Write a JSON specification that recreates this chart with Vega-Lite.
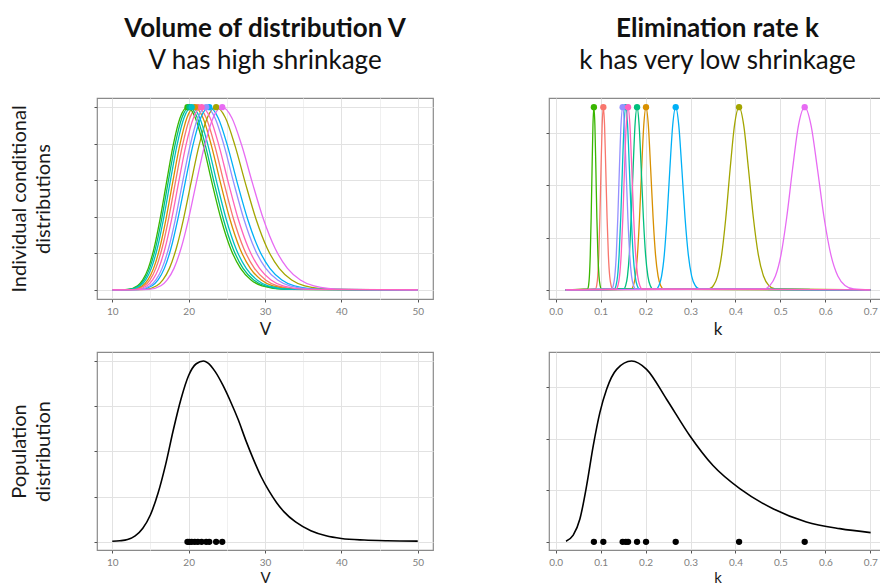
{
"$schema": "https://vega.github.io/schema/vega-lite/v6.json",
"background": "white",
"padding": {"left": 8, "top": 15, "right": -6, "bottom": 0},
"columns": 2,
"spacing": {"row": 53, "column": 116},
"bounds": "flush",
"config": {
  "font": "Lato",
  "view": {"stroke": "#8a8a8a", "strokeWidth": 1.2},
  "axis": {"domain": false, "tickColor": "#555555", "tickSize": 3, "labelColor": "#808080", "labelFontSize": 10, "labelPadding": 4, "titleFontWeight": "normal", "titleColor": "#1a1a1a", "labelFlush": false, "labelOverlap": false},
  "axisX": {"titleFontSize": 17, "titlePadding": 5},
  "axisY": {"titleFontSize": 20, "titlePadding": 40, "labels": false, "titleLineHeight": 24},
  "title": {"fontSize": 26, "fontWeight": "bold", "color": "#111111", "subtitleFontSize": 26, "subtitleColor": "#111111", "subtitlePadding": 6, "offset": 24, "anchor": "middle", "frame": "group"}
},
"datasets": {
"modes": [
{"id":"1","V":21.2,"k":0.106},
{"id":"2","V":20.8,"k":0.201},
{"id":"3","V":23.6,"k":0.408},
{"id":"4","V":19.85,"k":0.085},
{"id":"5","V":20.1,"k":0.181},
{"id":"6","V":20.4,"k":0.156},
{"id":"7","V":22.7,"k":0.267},
{"id":"8","V":22.3,"k":0.149},
{"id":"9","V":24.4,"k":0.554},
{"id":"10","V":21.7,"k":0.161}
],
"vpop": [
{"V":10,"d":0.003},{"V":11,"d":0.006},{"V":12,"d":0.013},{"V":13,"d":0.033},{"V":14,"d":0.075},{"V":15,"d":0.15},{"V":16,"d":0.27},{"V":17,"d":0.43},{"V":18,"d":0.62},{"V":19,"d":0.79},{"V":20,"d":0.92},{"V":21,"d":0.985},{"V":21.94,"d":1},{"V":22.5,"d":0.99},{"V":23.5,"d":0.94},{"V":24.5,"d":0.865},{"V":25.5,"d":0.775},{"V":26.5,"d":0.675},{"V":27.5,"d":0.56},{"V":28.5,"d":0.455},{"V":29.5,"d":0.36},{"V":30.5,"d":0.283},{"V":31.5,"d":0.218},{"V":32.5,"d":0.166},{"V":34,"d":0.11},{"V":36,"d":0.062},{"V":38,"d":0.034},{"V":40,"d":0.019},{"V":43,"d":0.01},{"V":46,"d":0.006},{"V":50,"d":0.004}
],
"kpop": [
{"k":0.0229,"d":0.004},{"k":0.039,"d":0.037},{"k":0.054,"d":0.128},{"k":0.0689,"d":0.312},{"k":0.0836,"d":0.532},{"k":0.0984,"d":0.716},{"k":0.1133,"d":0.844},{"k":0.1356,"d":0.954},{"k":0.1689,"d":1},{"k":0.2022,"d":0.954},{"k":0.2467,"d":0.789},{"k":0.2984,"d":0.587},{"k":0.35,"d":0.422},{"k":0.4096,"d":0.294},{"k":0.4836,"d":0.183},{"k":0.5578,"d":0.11},{"k":0.632,"d":0.073},{"k":0.7007,"d":0.051}
],
"vind": [
{"id":"1","V":10,"d":0},{"id":"1","V":12.86,"d":0.0026},{"id":"1","V":14.21,"d":0.0223},{"id":"1","V":14.94,"d":0.0543},{"id":"1","V":15.70,"d":0.1176},{"id":"1","V":16.51,"d":0.2262},{"id":"1","V":17.36,"d":0.3863},{"id":"1","V":18.25,"d":0.5856},{"id":"1","V":19.18,"d":0.7883},{"id":"1","V":20.17,"d":0.9423},{"id":"1","V":21.2,"d":1},{"id":"1","V":22.29,"d":0.9423},{"id":"1","V":23.43,"d":0.7883},{"id":"1","V":24.63,"d":0.5856},{"id":"1","V":25.89,"d":0.3863},{"id":"1","V":27.22,"d":0.2262},{"id":"1","V":28.62,"d":0.1176},{"id":"1","V":30.08,"d":0.0543},{"id":"1","V":31.63,"d":0.0223},{"id":"1","V":34.95,"d":0.0026},{"id":"1","V":50,"d":0},
{"id":"2","V":10,"d":0},{"id":"2","V":12.62,"d":0.0026},{"id":"2","V":13.94,"d":0.0223},{"id":"2","V":14.66,"d":0.0543},{"id":"2","V":15.41,"d":0.1176},{"id":"2","V":16.20,"d":0.2262},{"id":"2","V":17.03,"d":0.3863},{"id":"2","V":17.90,"d":0.5856},{"id":"2","V":18.82,"d":0.7883},{"id":"2","V":19.78,"d":0.9423},{"id":"2","V":20.8,"d":1},{"id":"2","V":21.87,"d":0.9423},{"id":"2","V":22.99,"d":0.7883},{"id":"2","V":24.17,"d":0.5856},{"id":"2","V":25.41,"d":0.3863},{"id":"2","V":26.71,"d":0.2262},{"id":"2","V":28.08,"d":0.1176},{"id":"2","V":29.52,"d":0.0543},{"id":"2","V":31.03,"d":0.0223},{"id":"2","V":34.29,"d":0.0026},{"id":"2","V":50,"d":0},
{"id":"3","V":10,"d":0},{"id":"3","V":14.31,"d":0.0026},{"id":"3","V":15.82,"d":0.0223},{"id":"3","V":16.63,"d":0.0543},{"id":"3","V":17.48,"d":0.1176},{"id":"3","V":18.38,"d":0.2262},{"id":"3","V":19.32,"d":0.3863},{"id":"3","V":20.31,"d":0.5856},{"id":"3","V":21.35,"d":0.7883},{"id":"3","V":22.45,"d":0.9423},{"id":"3","V":23.6,"d":1},{"id":"3","V":24.81,"d":0.9423},{"id":"3","V":26.08,"d":0.7883},{"id":"3","V":27.42,"d":0.5856},{"id":"3","V":28.83,"d":0.3863},{"id":"3","V":30.30,"d":0.2262},{"id":"3","V":31.86,"d":0.1176},{"id":"3","V":33.49,"d":0.0543},{"id":"3","V":35.21,"d":0.0223},{"id":"3","V":38.91,"d":0.0026},{"id":"3","V":50,"d":0},
{"id":"4","V":10,"d":0},{"id":"4","V":12.04,"d":0.0026},{"id":"4","V":13.31,"d":0.0223},{"id":"4","V":13.99,"d":0.0543},{"id":"4","V":14.71,"d":0.1176},{"id":"4","V":15.46,"d":0.2262},{"id":"4","V":16.25,"d":0.3863},{"id":"4","V":17.09,"d":0.5856},{"id":"4","V":17.96,"d":0.7883},{"id":"4","V":18.88,"d":0.9423},{"id":"4","V":19.85,"d":1},{"id":"4","V":20.87,"d":0.9423},{"id":"4","V":21.94,"d":0.7883},{"id":"4","V":23.06,"d":0.5856},{"id":"4","V":24.25,"d":0.3863},{"id":"4","V":25.49,"d":0.2262},{"id":"4","V":26.80,"d":0.1176},{"id":"4","V":28.17,"d":0.0543},{"id":"4","V":29.61,"d":0.0223},{"id":"4","V":32.73,"d":0.0026},{"id":"4","V":50,"d":0},
{"id":"5","V":10,"d":0},{"id":"5","V":12.19,"d":0.0026},{"id":"5","V":13.47,"d":0.0223},{"id":"5","V":14.16,"d":0.0543},{"id":"5","V":14.89,"d":0.1176},{"id":"5","V":15.65,"d":0.2262},{"id":"5","V":16.46,"d":0.3863},{"id":"5","V":17.30,"d":0.5856},{"id":"5","V":18.19,"d":0.7883},{"id":"5","V":19.12,"d":0.9423},{"id":"5","V":20.1,"d":1},{"id":"5","V":21.13,"d":0.9423},{"id":"5","V":22.21,"d":0.7883},{"id":"5","V":23.35,"d":0.5856},{"id":"5","V":24.55,"d":0.3863},{"id":"5","V":25.81,"d":0.2262},{"id":"5","V":27.13,"d":0.1176},{"id":"5","V":28.52,"d":0.0543},{"id":"5","V":29.99,"d":0.0223},{"id":"5","V":33.14,"d":0.0026},{"id":"5","V":50,"d":0},
{"id":"6","V":10,"d":0},{"id":"6","V":12.37,"d":0.0026},{"id":"6","V":13.67,"d":0.0223},{"id":"6","V":14.38,"d":0.0543},{"id":"6","V":15.11,"d":0.1176},{"id":"6","V":15.89,"d":0.2262},{"id":"6","V":16.70,"d":0.3863},{"id":"6","V":17.56,"d":0.5856},{"id":"6","V":18.46,"d":0.7883},{"id":"6","V":19.40,"d":0.9423},{"id":"6","V":20.4,"d":1},{"id":"6","V":21.45,"d":0.9423},{"id":"6","V":22.55,"d":0.7883},{"id":"6","V":23.70,"d":0.5856},{"id":"6","V":24.92,"d":0.3863},{"id":"6","V":26.19,"d":0.2262},{"id":"6","V":27.54,"d":0.1176},{"id":"6","V":28.95,"d":0.0543},{"id":"6","V":30.43,"d":0.0223},{"id":"6","V":33.63,"d":0.0026},{"id":"6","V":50,"d":0},
{"id":"7","V":10,"d":0},{"id":"7","V":13.77,"d":0.0026},{"id":"7","V":15.22,"d":0.0223},{"id":"7","V":16.00,"d":0.0543},{"id":"7","V":16.82,"d":0.1176},{"id":"7","V":17.68,"d":0.2262},{"id":"7","V":18.58,"d":0.3863},{"id":"7","V":19.54,"d":0.5856},{"id":"7","V":20.54,"d":0.7883},{"id":"7","V":21.59,"d":0.9423},{"id":"7","V":22.7,"d":1},{"id":"7","V":23.86,"d":0.9423},{"id":"7","V":25.09,"d":0.7883},{"id":"7","V":26.37,"d":0.5856},{"id":"7","V":27.73,"d":0.3863},{"id":"7","V":29.15,"d":0.2262},{"id":"7","V":30.64,"d":0.1176},{"id":"7","V":32.21,"d":0.0543},{"id":"7","V":33.86,"d":0.0223},{"id":"7","V":37.43,"d":0.0026},{"id":"7","V":50,"d":0},
{"id":"8","V":10,"d":0},{"id":"8","V":13.52,"d":0.0026},{"id":"8","V":14.95,"d":0.0223},{"id":"8","V":15.71,"d":0.0543},{"id":"8","V":16.52,"d":0.1176},{"id":"8","V":17.37,"d":0.2262},{"id":"8","V":18.26,"d":0.3863},{"id":"8","V":19.19,"d":0.5856},{"id":"8","V":20.18,"d":0.7883},{"id":"8","V":21.21,"d":0.9423},{"id":"8","V":22.3,"d":1},{"id":"8","V":23.44,"d":0.9423},{"id":"8","V":24.65,"d":0.7883},{"id":"8","V":25.91,"d":0.5856},{"id":"8","V":27.24,"d":0.3863},{"id":"8","V":28.63,"d":0.2262},{"id":"8","V":30.10,"d":0.1176},{"id":"8","V":31.65,"d":0.0543},{"id":"8","V":33.27,"d":0.0223},{"id":"8","V":36.77,"d":0.0026},{"id":"8","V":50,"d":0},
{"id":"9","V":10,"d":0},{"id":"9","V":14.80,"d":0.0026},{"id":"9","V":16.36,"d":0.0223},{"id":"9","V":17.19,"d":0.0543},{"id":"9","V":18.08,"d":0.1176},{"id":"9","V":19.00,"d":0.2262},{"id":"9","V":19.98,"d":0.3863},{"id":"9","V":21.00,"d":0.5856},{"id":"9","V":22.08,"d":0.7883},{"id":"9","V":23.21,"d":0.9423},{"id":"9","V":24.4,"d":1},{"id":"9","V":25.65,"d":0.9423},{"id":"9","V":26.97,"d":0.7883},{"id":"9","V":28.35,"d":0.5856},{"id":"9","V":29.80,"d":0.3863},{"id":"9","V":31.33,"d":0.2262},{"id":"9","V":32.94,"d":0.1176},{"id":"9","V":34.63,"d":0.0543},{"id":"9","V":36.40,"d":0.0223},{"id":"9","V":40.23,"d":0.0026},{"id":"9","V":50,"d":0},
{"id":"10","V":10,"d":0},{"id":"10","V":13.16,"d":0.0026},{"id":"10","V":14.55,"d":0.0223},{"id":"10","V":15.29,"d":0.0543},{"id":"10","V":16.08,"d":0.1176},{"id":"10","V":16.90,"d":0.2262},{"id":"10","V":17.77,"d":0.3863},{"id":"10","V":18.68,"d":0.5856},{"id":"10","V":19.63,"d":0.7883},{"id":"10","V":20.64,"d":0.9423},{"id":"10","V":21.7,"d":1},{"id":"10","V":22.81,"d":0.9423},{"id":"10","V":23.98,"d":0.7883},{"id":"10","V":25.21,"d":0.5856},{"id":"10","V":26.50,"d":0.3863},{"id":"10","V":27.86,"d":0.2262},{"id":"10","V":29.29,"d":0.1176},{"id":"10","V":30.79,"d":0.0543},{"id":"10","V":32.37,"d":0.0223},{"id":"10","V":35.78,"d":0.0026},{"id":"10","V":50,"d":0}
],
"kind": [
{"id":"1","k":0.022,"d":0},{"id":"1","k":0.0885,"d":0.0047},{"id":"1","k":0.0912,"d":0.0243},{"id":"1","k":0.0936,"d":0.0756},{"id":"1","k":0.0959,"d":0.1915},{"id":"1","k":0.0983,"d":0.3946},{"id":"1","k":0.1008,"d":0.6615},{"id":"1","k":0.1034,"d":0.9019},{"id":"1","k":0.106,"d":1},{"id":"1","k":0.1087,"d":0.9019},{"id":"1","k":0.1114,"d":0.6615},{"id":"1","k":0.1143,"d":0.3946},{"id":"1","k":0.1172,"d":0.1915},{"id":"1","k":0.1201,"d":0.0756},{"id":"1","k":0.1232,"d":0.0243},{"id":"1","k":0.1269,"d":0.0047},{"id":"1","k":0.7,"d":0},
{"id":"2","k":0.022,"d":0},{"id":"2","k":0.1679,"d":0.0047},{"id":"2","k":0.1730,"d":0.0243},{"id":"2","k":0.1774,"d":0.0756},{"id":"2","k":0.1819,"d":0.1915},{"id":"2","k":0.1865,"d":0.3946},{"id":"2","k":0.1912,"d":0.6615},{"id":"2","k":0.1960,"d":0.9019},{"id":"2","k":0.201,"d":1},{"id":"2","k":0.2061,"d":0.9019},{"id":"2","k":0.2113,"d":0.6615},{"id":"2","k":0.2167,"d":0.3946},{"id":"2","k":0.2221,"d":0.1915},{"id":"2","k":0.2278,"d":0.0756},{"id":"2","k":0.2335,"d":0.0243},{"id":"2","k":0.2406,"d":0.0047},{"id":"2","k":0.7,"d":0},
{"id":"3","k":0.022,"d":0},{"id":"3","k":0.3408,"d":0.0047},{"id":"3","k":0.3512,"d":0.0243},{"id":"3","k":0.3601,"d":0.0756},{"id":"3","k":0.3692,"d":0.1915},{"id":"3","k":0.3785,"d":0.3946},{"id":"3","k":0.3881,"d":0.6615},{"id":"3","k":0.3979,"d":0.9019},{"id":"3","k":0.408,"d":1},{"id":"3","k":0.4183,"d":0.9019},{"id":"3","k":0.4289,"d":0.6615},{"id":"3","k":0.4398,"d":0.3946},{"id":"3","k":0.4509,"d":0.1915},{"id":"3","k":0.4623,"d":0.0756},{"id":"3","k":0.4740,"d":0.0243},{"id":"3","k":0.4885,"d":0.0047},{"id":"3","k":0.7,"d":0},
{"id":"4","k":0.022,"d":0},{"id":"4","k":0.0710,"d":0.0047},{"id":"4","k":0.0732,"d":0.0243},{"id":"4","k":0.0750,"d":0.0756},{"id":"4","k":0.0769,"d":0.1915},{"id":"4","k":0.0789,"d":0.3946},{"id":"4","k":0.0809,"d":0.6615},{"id":"4","k":0.0829,"d":0.9019},{"id":"4","k":0.085,"d":1},{"id":"4","k":0.0872,"d":0.9019},{"id":"4","k":0.0894,"d":0.6615},{"id":"4","k":0.0916,"d":0.3946},{"id":"4","k":0.0939,"d":0.1915},{"id":"4","k":0.0963,"d":0.0756},{"id":"4","k":0.0988,"d":0.0243},{"id":"4","k":0.1018,"d":0.0047},{"id":"4","k":0.7,"d":0},
{"id":"5","k":0.022,"d":0},{"id":"5","k":0.1512,"d":0.0047},{"id":"5","k":0.1558,"d":0.0243},{"id":"5","k":0.1597,"d":0.0756},{"id":"5","k":0.1638,"d":0.1915},{"id":"5","k":0.1679,"d":0.3946},{"id":"5","k":0.1722,"d":0.6615},{"id":"5","k":0.1765,"d":0.9019},{"id":"5","k":0.181,"d":1},{"id":"5","k":0.1856,"d":0.9019},{"id":"5","k":0.1903,"d":0.6615},{"id":"5","k":0.1951,"d":0.3946},{"id":"5","k":0.2000,"d":0.1915},{"id":"5","k":0.2051,"d":0.0756},{"id":"5","k":0.2103,"d":0.0243},{"id":"5","k":0.2167,"d":0.0047},{"id":"5","k":0.7,"d":0},
{"id":"6","k":0.022,"d":0},{"id":"6","k":0.1303,"d":0.0047},{"id":"6","k":0.1343,"d":0.0243},{"id":"6","k":0.1377,"d":0.0756},{"id":"6","k":0.1411,"d":0.1915},{"id":"6","k":0.1447,"d":0.3946},{"id":"6","k":0.1484,"d":0.6615},{"id":"6","k":0.1521,"d":0.9019},{"id":"6","k":0.156,"d":1},{"id":"6","k":0.1599,"d":0.9019},{"id":"6","k":0.1640,"d":0.6615},{"id":"6","k":0.1682,"d":0.3946},{"id":"6","k":0.1724,"d":0.1915},{"id":"6","k":0.1768,"d":0.0756},{"id":"6","k":0.1812,"d":0.0243},{"id":"6","k":0.1868,"d":0.0047},{"id":"6","k":0.7,"d":0},
{"id":"7","k":0.022,"d":0},{"id":"7","k":0.2230,"d":0.0047},{"id":"7","k":0.2298,"d":0.0243},{"id":"7","k":0.2356,"d":0.0756},{"id":"7","k":0.2416,"d":0.1915},{"id":"7","k":0.2477,"d":0.3946},{"id":"7","k":0.2540,"d":0.6615},{"id":"7","k":0.2604,"d":0.9019},{"id":"7","k":0.267,"d":1},{"id":"7","k":0.2738,"d":0.9019},{"id":"7","k":0.2807,"d":0.6615},{"id":"7","k":0.2878,"d":0.3946},{"id":"7","k":0.2951,"d":0.1915},{"id":"7","k":0.3025,"d":0.0756},{"id":"7","k":0.3102,"d":0.0243},{"id":"7","k":0.3197,"d":0.0047},{"id":"7","k":0.7,"d":0},
{"id":"8","k":0.022,"d":0},{"id":"8","k":0.1245,"d":0.0047},{"id":"8","k":0.1282,"d":0.0243},{"id":"8","k":0.1315,"d":0.0756},{"id":"8","k":0.1348,"d":0.1915},{"id":"8","k":0.1382,"d":0.3946},{"id":"8","k":0.1417,"d":0.6615},{"id":"8","k":0.1453,"d":0.9019},{"id":"8","k":0.149,"d":1},{"id":"8","k":0.1528,"d":0.9019},{"id":"8","k":0.1566,"d":0.6615},{"id":"8","k":0.1606,"d":0.3946},{"id":"8","k":0.1647,"d":0.1915},{"id":"8","k":0.1688,"d":0.0756},{"id":"8","k":0.1731,"d":0.0243},{"id":"8","k":0.1784,"d":0.0047},{"id":"8","k":0.7,"d":0},
{"id":"9","k":0.022,"d":0},{"id":"9","k":0.4628,"d":0.0047},{"id":"9","k":0.4768,"d":0.0243},{"id":"9","k":0.4889,"d":0.0756},{"id":"9","k":0.5013,"d":0.1915},{"id":"9","k":0.5139,"d":0.3946},{"id":"9","k":0.5270,"d":0.6615},{"id":"9","k":0.5403,"d":0.9019},{"id":"9","k":0.554,"d":1},{"id":"9","k":0.5680,"d":0.9019},{"id":"9","k":0.5824,"d":0.6615},{"id":"9","k":0.5972,"d":0.3946},{"id":"9","k":0.6123,"d":0.1915},{"id":"9","k":0.6277,"d":0.0756},{"id":"9","k":0.6436,"d":0.0243},{"id":"9","k":0.6632,"d":0.0047},{"id":"9","k":0.7,"d":0},
{"id":"10","k":0.022,"d":0},{"id":"10","k":0.1345,"d":0.0047},{"id":"10","k":0.1386,"d":0.0243},{"id":"10","k":0.1421,"d":0.0756},{"id":"10","k":0.1457,"d":0.1915},{"id":"10","k":0.1494,"d":0.3946},{"id":"10","k":0.1531,"d":0.6615},{"id":"10","k":0.1570,"d":0.9019},{"id":"10","k":0.161,"d":1},{"id":"10","k":0.1651,"d":0.9019},{"id":"10","k":0.1693,"d":0.6615},{"id":"10","k":0.1735,"d":0.3946},{"id":"10","k":0.1779,"d":0.1915},{"id":"10","k":0.1824,"d":0.0756},{"id":"10","k":0.1871,"d":0.0243},{"id":"10","k":0.1928,"d":0.0047},{"id":"10","k":0.7,"d":0}
]
},
"concat": [
{
 "width": 336, "height": 201,
 "title": {"text": "Volume of distribution V", "subtitle": "V has high shrinkage"},
 "layer": [
  {"data": {"name": "vind"},
   "mark": {"type": "line", "interpolate": "monotone", "strokeWidth": 1.3},
   "encoding": {
    "x": {"field": "V", "type": "quantitative", "scale": {"domain": [8, 52], "nice": false, "zero": false},
          "axis": {"title": "V", "values": [10,15,20,25,30,35,40,45,50],
                   "labelExpr": "datum.value % 10 === 0 ? datum.label : ''",
                   "tickOpacity": {"condition": {"test": "datum.value % 10 === 0", "value": 1}, "value": 0},
                   "gridColor": {"condition": {"test": "datum.value % 10 === 0", "value": "#e2e2e2"}, "value": "#f0f0f0"}}},
    "y": {"field": "d", "type": "quantitative", "scale": {"domain": [-0.05, 1.05], "nice": false, "zero": false},
          "axis": {"title": ["Individual conditional", "distributions"], "values": [0,0.1,0.2,0.3,0.4,0.5,0.6,0.7,0.8,0.9,1.0],
                   "tickOpacity": {"condition": {"test": "abs(datum.value*5 - round(datum.value*5)) < 0.001", "value": 1}, "value": 0},
                   "gridColor": {"condition": {"test": "abs(datum.value*5 - round(datum.value*5)) < 0.001", "value": "#e2e2e2"}, "value": "#f0f0f0"}}},
    "color": {"field": "id", "type": "nominal", "legend": null,
              "scale": {"domain": ["1","2","3","4","5","6","7","8","9","10"], "range": ["#F8766D","#D89000","#A3A500","#39B600","#00BF7D","#00BFC4","#00B0F6","#9590FF","#E76BF3","#FF62BC"]}}
   }},
  {"data": {"name": "modes"},
   "mark": {"type": "point", "filled": true, "size": 40, "opacity": 1},
   "encoding": {
    "x": {"field": "V", "type": "quantitative"},
    "y": {"datum": 1},
    "color": {"field": "id", "type": "nominal", "legend": null}
   }}
 ]
},
{
 "width": 337, "height": 201,
 "title": {"text": "Elimination rate k", "subtitle": "k has very low shrinkage"},
 "layer": [
  {"data": {"name": "kind"},
   "mark": {"type": "line", "interpolate": "monotone", "strokeWidth": 1.3},
   "encoding": {
    "x": {"field": "k", "type": "quantitative", "scale": {"domain": [-0.0149, 0.7349], "nice": false, "zero": false},
          "axis": {"title": "k", "values": [0,0.05,0.1,0.15,0.2,0.25,0.3,0.35,0.4,0.45,0.5,0.55,0.6,0.65,0.7],
                   "labelExpr": "abs(datum.value*10 - round(datum.value*10)) < 0.001 ? format(datum.value, '.1f') : ''",
                   "tickOpacity": {"condition": {"test": "abs(datum.value*10 - round(datum.value*10)) < 0.001", "value": 1}, "value": 0},
                   "gridColor": {"condition": {"test": "abs(datum.value*10 - round(datum.value*10)) < 0.001", "value": "#e2e2e2"}, "value": "#f0f0f0"}}},
    "y": {"field": "d", "type": "quantitative", "scale": {"domain": [-0.05, 1.05], "nice": false, "zero": false},
          "axis": {"title": null, "values": [0,0.142857,0.285714,0.428571,0.571429,0.714286,0.857143,1.0],
                   "tickOpacity": {"condition": {"test": "abs(datum.value*3.5 - round(datum.value*3.5)) < 0.01", "value": 1}, "value": 0},
                   "gridColor": {"condition": {"test": "abs(datum.value*3.5 - round(datum.value*3.5)) < 0.01", "value": "#e2e2e2"}, "value": "#f0f0f0"}}},
    "color": {"field": "id", "type": "nominal", "legend": null,
              "scale": {"domain": ["1","2","3","4","5","6","7","8","9","10"], "range": ["#F8766D","#D89000","#A3A500","#39B600","#00BF7D","#00BFC4","#00B0F6","#9590FF","#E76BF3","#FF62BC"]}}
   }},
  {"data": {"name": "modes"},
   "mark": {"type": "point", "filled": true, "size": 40, "opacity": 1},
   "encoding": {
    "x": {"field": "k", "type": "quantitative"},
    "y": {"datum": 1},
    "color": {"field": "id", "type": "nominal", "legend": null}
   }}
 ]
},
{
 "width": 336, "height": 198,
 "layer": [
  {"data": {"name": "vpop"},
   "mark": {"type": "line", "interpolate": "monotone", "strokeWidth": 1.6, "color": "#000000"},
   "encoding": {
    "x": {"field": "V", "type": "quantitative", "scale": {"domain": [8, 52], "nice": false, "zero": false},
          "axis": {"title": "V", "titlePadding": 3, "titleFontSize": 15, "values": [10,15,20,25,30,35,40,45,50],
                   "labelExpr": "datum.value % 10 === 0 ? datum.label : ''",
                   "tickOpacity": {"condition": {"test": "datum.value % 10 === 0", "value": 1}, "value": 0},
                   "gridColor": {"condition": {"test": "datum.value % 10 === 0", "value": "#e2e2e2"}, "value": "#f0f0f0"}}},
    "y": {"field": "d", "type": "quantitative", "scale": {"domain": [-0.045, 1.05], "nice": false, "zero": false},
          "axis": {"title": ["Population", "distribution"], "values": [0,0.125,0.25,0.375,0.5,0.625,0.75,0.875,1.0],
                   "tickOpacity": {"condition": {"test": "abs(datum.value*4 - round(datum.value*4)) < 0.001", "value": 1}, "value": 0},
                   "gridColor": {"condition": {"test": "abs(datum.value*4 - round(datum.value*4)) < 0.001", "value": "#e2e2e2"}, "value": "#f0f0f0"}}}
   }},
  {"data": {"name": "modes"},
   "mark": {"type": "point", "filled": true, "size": 40, "opacity": 1, "color": "#000000"},
   "encoding": {
    "x": {"field": "V", "type": "quantitative"},
    "y": {"datum": 0}
   }}
 ]
},
{
 "width": 337, "height": 198,
 "layer": [
  {"data": {"name": "kpop"},
   "mark": {"type": "line", "interpolate": "monotone", "strokeWidth": 1.6, "color": "#000000"},
   "encoding": {
    "x": {"field": "k", "type": "quantitative", "scale": {"domain": [-0.0149, 0.7349], "nice": false, "zero": false},
          "axis": {"title": "k", "titlePadding": 3, "titleFontSize": 15, "values": [0,0.05,0.1,0.15,0.2,0.25,0.3,0.35,0.4,0.45,0.5,0.55,0.6,0.65,0.7],
                   "labelExpr": "abs(datum.value*10 - round(datum.value*10)) < 0.001 ? format(datum.value, '.1f') : ''",
                   "tickOpacity": {"condition": {"test": "abs(datum.value*10 - round(datum.value*10)) < 0.001", "value": 1}, "value": 0},
                   "gridColor": {"condition": {"test": "abs(datum.value*10 - round(datum.value*10)) < 0.001", "value": "#e2e2e2"}, "value": "#f0f0f0"}}},
    "y": {"field": "d", "type": "quantitative", "scale": {"domain": [-0.045, 1.05], "nice": false, "zero": false},
          "axis": {"title": null, "values": [0,0.142857,0.285714,0.428571,0.571429,0.714286,0.857143,1.0],
                   "tickOpacity": {"condition": {"test": "abs(datum.value*3.5 - round(datum.value*3.5)) < 0.01", "value": 1}, "value": 0},
                   "gridColor": {"condition": {"test": "abs(datum.value*3.5 - round(datum.value*3.5)) < 0.01", "value": "#e2e2e2"}, "value": "#f0f0f0"}}}
   }},
  {"data": {"name": "modes"},
   "mark": {"type": "point", "filled": true, "size": 40, "opacity": 1, "color": "#000000"},
   "encoding": {
    "x": {"field": "k", "type": "quantitative"},
    "y": {"datum": 0}
   }}
 ]
}
]
}
